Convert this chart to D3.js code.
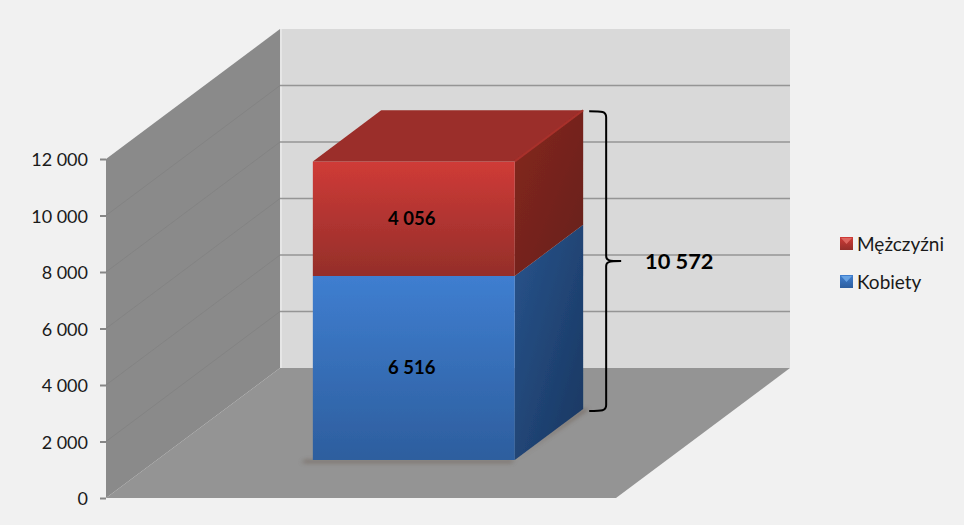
<!DOCTYPE html>
<html><head><meta charset="utf-8">
<script src="https://cdn.jsdelivr.net/npm/d3@7"></script>
<style>html,body{margin:0;padding:0;background:#f1f1f1}svg{display:block}text{font-family:Lato,"Open Sans",sans-serif}</style>
</head><body><svg id="c" width="964" height="525"></svg>
<script>
const categories = ["Ogółem"];
const seriesNames = ["Kobiety", "Mężczyźni"];
const seriesValues = [6516, 4056];
const totalValue = 10572;
const tickValues = [0, 2000, 4000, 6000, 8000, 10000, 12000];
const tickLabels = ["0", "2 000", "4 000", "6 000", "8 000", "10 000", "12 000"];
const frontColors = [["#3f7ed0", "#2d5e9e"], ["#cf3b37", "#942e2a"]];
const sideColors = [["#28548c", "#193660"], ["#85271f", "#66201b"]];
const topColors = [null, "#9b2d29"];

const svg = d3.select("#c");
const defs = svg.append("defs");
// Projection: y for value in front plane, x across, z for depth
const y = d3.scaleLinear().domain([0, 12000]).range([498, 159]);
const x = d3.scaleBand().domain(categories).range([2, 512]).padding(0.4327);
const zx = d3.scaleLinear().domain([0, 1]).range([106, 280]);
const zy = d3.scaleLinear().domain([0, 1]).range([0, 130]);
const P = (xv, val, z) => [zx(z) + xv, y(val) - zy(z)];
const poly = pts => "M" + pts.map(p => p.join(",")).join("L") + "Z";
const W = 510, zA = 0.292, zB = 0.685;

function grad(id, a, b, x2, y2) {
  const g = defs.append("linearGradient").attr("id", id).attr("x1", 0).attr("y1", 0).attr("x2", x2).attr("y2", y2);
  g.append("stop").attr("offset", 0).attr("stop-color", a);
  g.append("stop").attr("offset", 1).attr("stop-color", b);
}
defs.append("filter").attr("id", "blur").attr("x", "-20%").attr("y", "-20%").attr("width", "140%").attr("height", "140%")
  .append("feGaussianBlur").attr("stdDeviation", 2.2);
defs.append("filter").attr("id", "soft").append("feGaussianBlur").attr("stdDeviation", 0.4);

// walls and floor
svg.append("path").attr("d", poly([P(0, 12000, 1), P(W, 12000, 1), P(W, 0, 1), P(0, 0, 1)])).attr("fill", "#d9d9d9");
svg.append("path").attr("d", poly([P(0, 12000, 0), P(0, 12000, 1), P(0, 0, 1), P(0, 0, 0)])).attr("fill", "#8a8a8a");
svg.append("path").attr("d", poly([P(0, 0, 0), P(0, 0, 1), P(W, 0, 1), P(W, 0, 0)])).attr("fill", "#949494");
svg.append("line").attr("x1", P(0, 0, 1)[0] + 1).attr("x2", P(0, 0, 1)[0] + 1).attr("y1", P(0, 12000, 1)[1]).attr("y2", P(0, 0, 1)[1]).attr("stroke", "#e6e6e6").attr("stroke-width", 2);

// gridlines
tickValues.filter(t => t > 0 && t < 12000).forEach(t => {
  const a = P(0, t, 1), b = P(W, t, 1), c = P(0, t, 0);
  svg.append("line").attr("x1", a[0]).attr("y1", a[1]).attr("x2", b[0]).attr("y2", b[1]).attr("stroke", "#959595").attr("stroke-width", 1.6);
  svg.append("line").attr("x1", c[0]).attr("y1", c[1]).attr("x2", a[0]).attr("y2", a[1]).attr("stroke", "#838383").attr("stroke-width", 1);
});

// axis
const axis = d3.axisLeft(y).tickValues(tickValues).tickSize(6).tickPadding(12)
  .tickFormat(d => tickLabels[tickValues.indexOf(d)]);
const ag = svg.append("g").attr("transform", "translate(106,0)").call(axis);
ag.select(".domain").remove();
ag.selectAll(".tick line").attr("stroke", "#868686").attr("stroke-width", 2);
ag.selectAll(".tick text").attr("font-size", 18).attr("fill", "#1a1a1a").attr("y", 1).style("font-family", "Lato");

// bar
const bx0 = x(categories[0]), bx1 = bx0 + x.bandwidth();
svg.append("path").attr("d", poly([P(bx0 - 8, 0, zA), P(bx1, 0, zA), P(bx1 + 6, 0, zB), P(bx1, 0, zB), P(bx1, 0, zA - 0.02), P(bx0 - 8, 0, zA - 0.02)]))
  .attr("fill", "#6d5f55").attr("filter", "url(#blur)").attr("opacity", .75);
const totals = d3.cumsum(seriesValues);
seriesValues.forEach((v, i) => {
  const lo = i ? totals[i - 1] : 0, hi = totals[i];
  grad("f" + i, frontColors[i][0], frontColors[i][1], 0, 1);
  grad("s" + i, sideColors[i][0], sideColors[i][1], 1, 1);
  const g = svg.append("g").attr("filter", "url(#soft)");
  g.append("path").attr("d", poly([P(bx1, lo, zA), P(bx1, hi, zA), P(bx1, hi, zB), P(bx1, lo, zB)])).attr("fill", `url(#s${i})`);
  g.append("path").attr("d", poly([P(bx0, lo, zA), P(bx1, lo, zA), P(bx1, hi, zA), P(bx0, hi, zA)])).attr("fill", `url(#f${i})`);
  if (topColors[i]) {
    g.append("path").attr("d", poly([P(bx0, hi, zA), P(bx0, hi, zB), P(bx1, hi, zB), P(bx1, hi, zA)])).attr("fill", topColors[i]);
    const e1 = P(bx1, hi, zA), e2 = P(bx1, hi, zB);
    g.append("line").attr("x1", e1[0]).attr("y1", e1[1]).attr("x2", e2[0]).attr("y2", e2[1]).attr("stroke", "#a8302b").attr("stroke-width", 2);
  }
  const c = P((bx0 + bx1) / 2, (lo + hi) / 2, zA);
  svg.append("text").attr("x", c[0] - 2).attr("y", c[1]).attr("dy", ".35em").attr("text-anchor", "middle")
    .attr("font-size", 18.5).attr("font-weight", 700).attr("fill", "#000").text(d3.format(",")(v).replace(",", " "));
});

// bracket, spanning the total at the back of the bar
const by0 = P(bx1, totalValue, zB)[1] + 1, by1 = P(bx1, 0, zB)[1] + 2, bm = (by0 + by1) / 2;
const bl = P(bx1, 0, zB)[0] + 6, bs = bl + 17;
svg.append("path").attr("fill", "none").attr("stroke", "#000").attr("stroke-width", 2)
  .attr("d", `M${bl},${by0}C${bs - 4},${by0} ${bs},${by0} ${bs},${by0 + 6}L${bs},${bm - 5}C${bs},${bm - 1} ${bs + 2},${bm} ${bs + 15},${bm}C${bs + 2},${bm} ${bs},${bm + 1} ${bs},${bm + 5}L${bs},${by1 - 6}C${bs},${by1} ${bs - 4},${by1} ${bl},${by1}`);
svg.append("text").attr("x", 645).attr("y", bm).attr("dy", ".35em").attr("font-size", 21.8).attr("font-weight", 700).attr("fill", "#000")
  .text(d3.format(",")(totalValue).replace(",", " "));

// legend
const legendY = d3.scalePoint().domain([seriesNames[1], seriesNames[0]]).range([244, 282]);
seriesNames.forEach((n, i) => {
  const ly = legendY(n);
  const g = svg.append("g").attr("transform", `translate(840,${ly - 7})`);
  g.append("rect").attr("width", 13).attr("height", 13).attr("fill", `url(#f${i})`);
  g.append("path").attr("d", "M1,1H12L6.5,7Z").attr("fill", i ? "#e06a64" : "#6ba6e6").attr("opacity", .9);
  svg.append("text").attr("x", 857).attr("y", ly).attr("dy", ".35em").attr("font-size", 19).attr("fill", "#1a1a1a").text(n);
});
</script></body></html>
